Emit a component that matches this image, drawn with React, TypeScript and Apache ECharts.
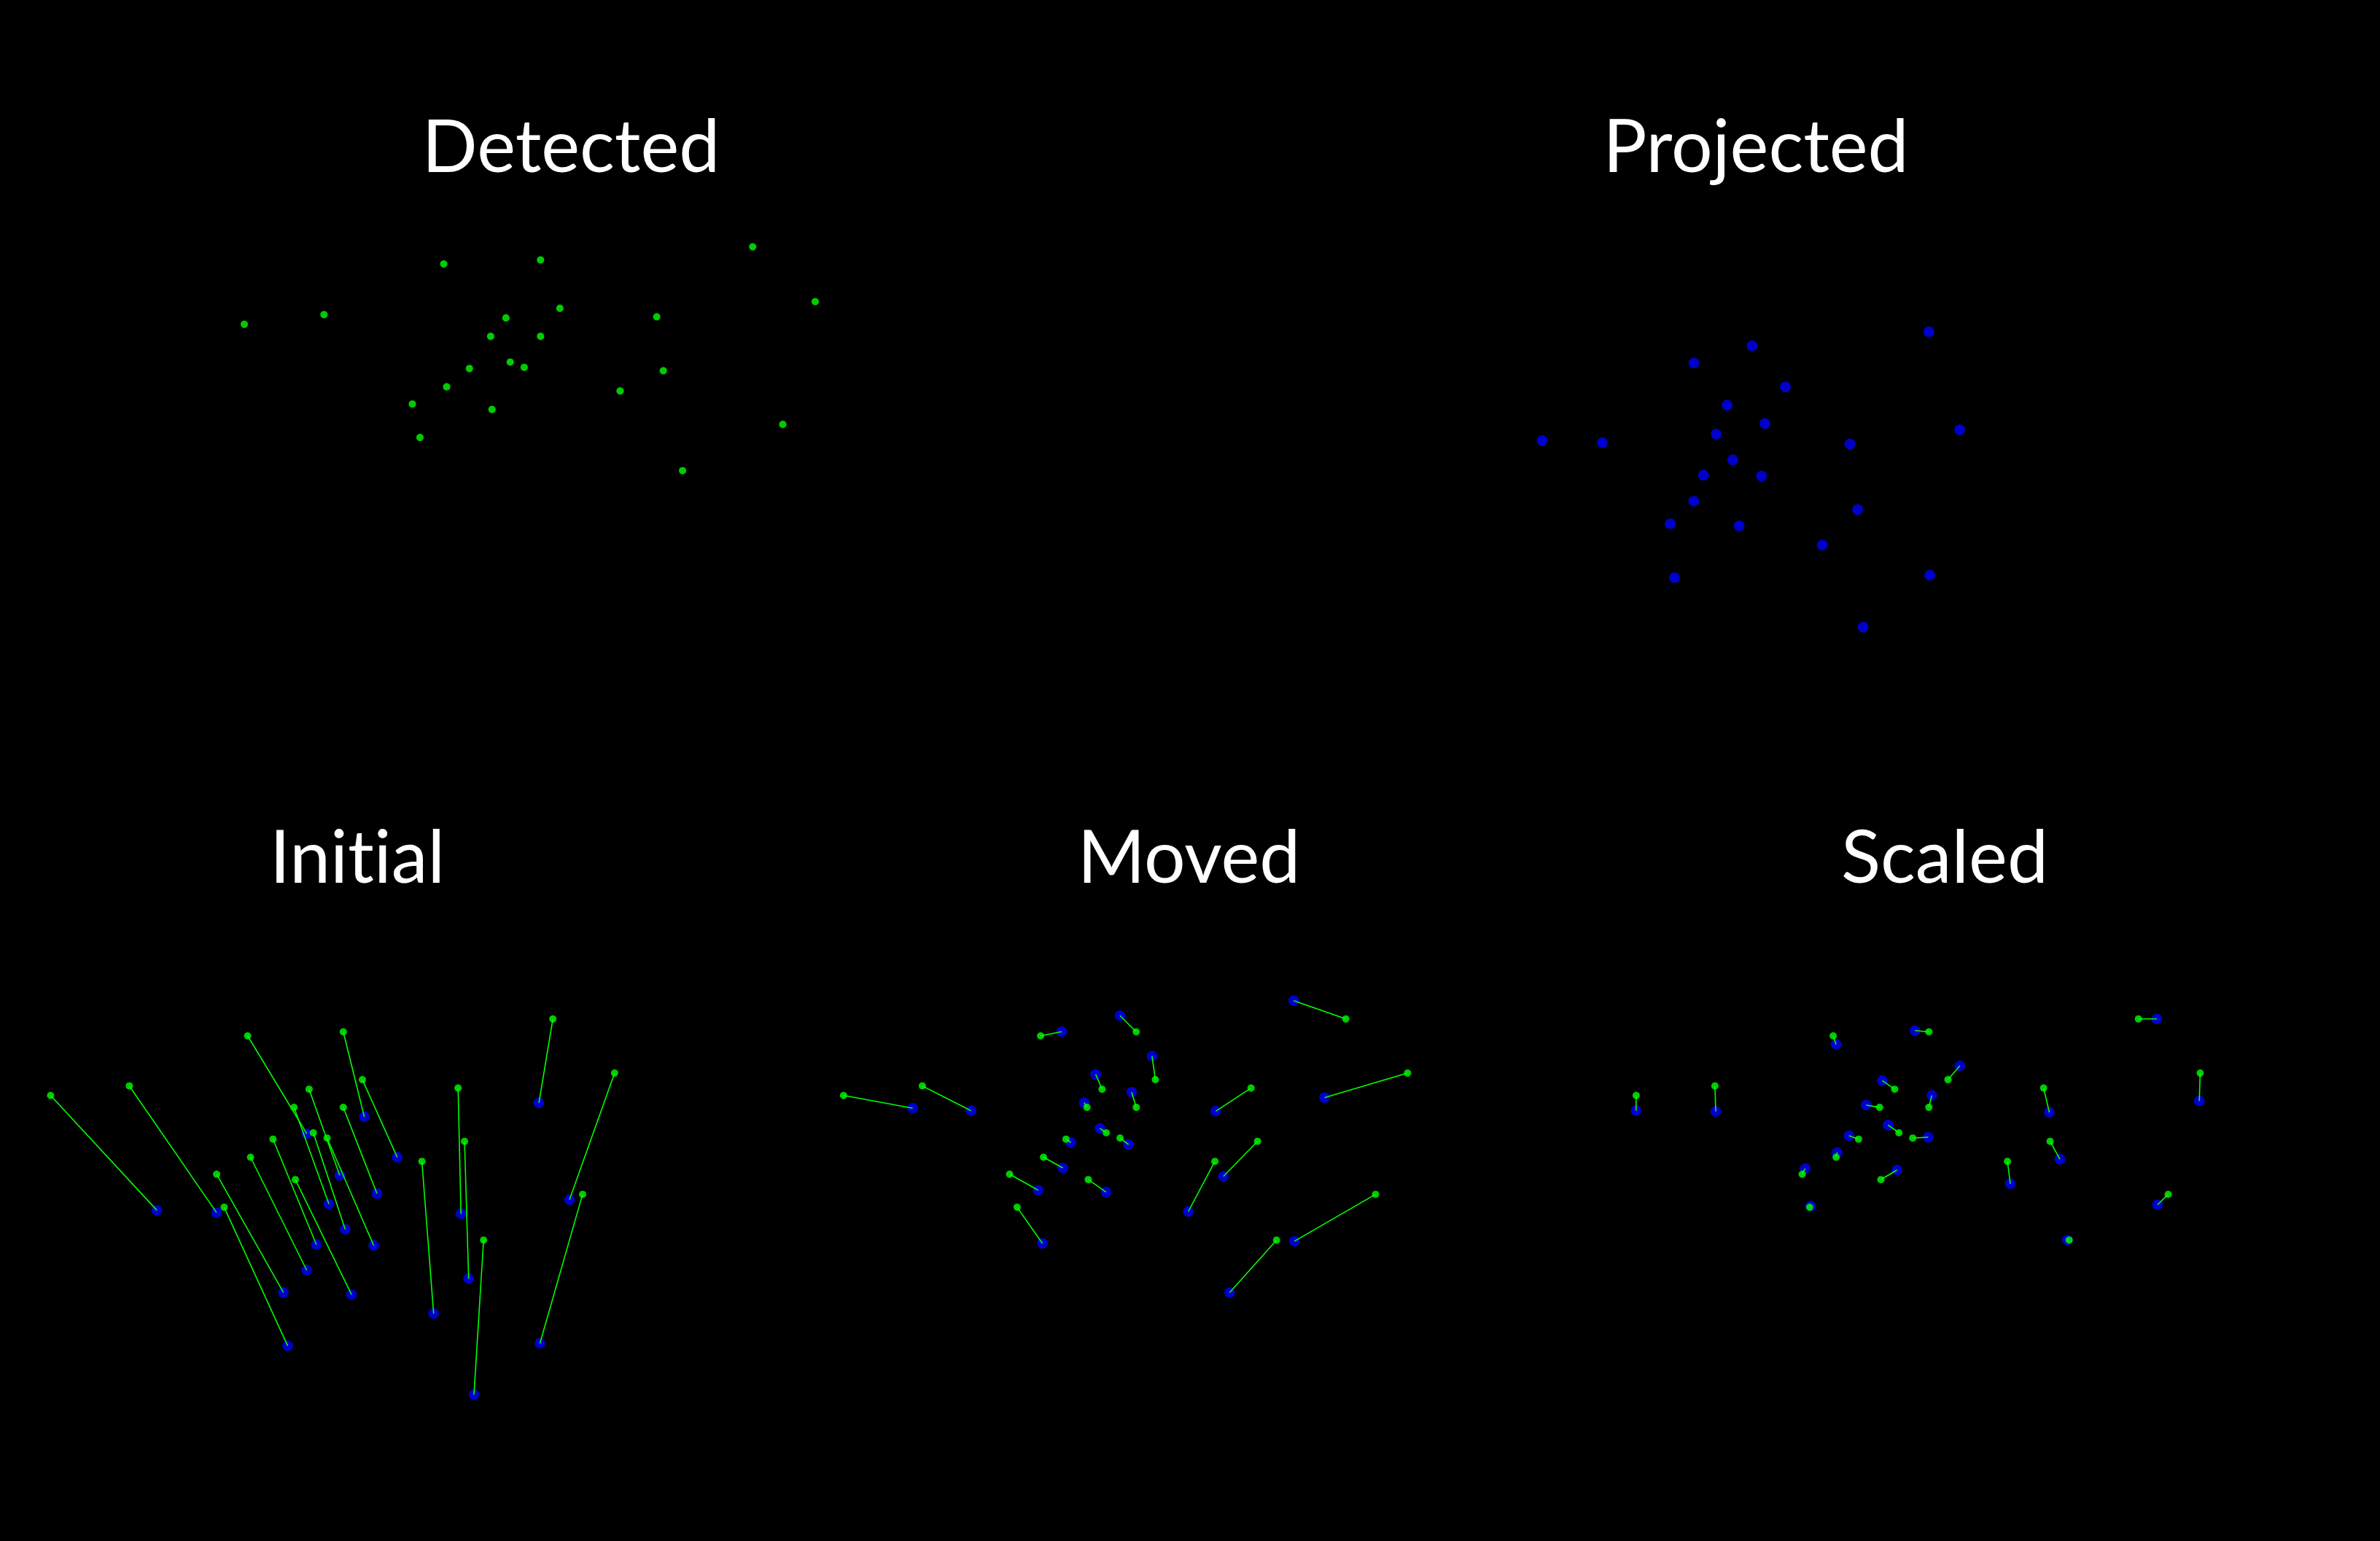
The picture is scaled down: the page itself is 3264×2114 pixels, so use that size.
import React, { useEffect, useRef } from "react";
import * as echarts from "echarts";

// Detected keypoints (image coordinates)
const detected: number[][] = [
  [69.4, 202.8], [177.4, 189.7], [339.6, 121.0], [470.8, 115.5], [758.2, 97.8],
  [842.9, 172.1], [497.0, 181.1], [423.9, 194.2], [628.2, 192.6], [403.2, 219.1],
  [470.8, 219.1], [429.7, 254.0], [448.6, 261.2], [374.4, 262.7], [637.1, 265.7],
  [343.6, 287.5], [578.6, 293.2], [297.1, 310.8], [405.0, 318.2], [799.0, 338.4],
  [307.4, 356.1], [663.2, 401.2],
];

// Projected model points, matched index-by-index to detected
const projected: number[][] = [
  [215.2, 360.4], [296.9, 363.4], [420.8, 255.3], [499.6, 232.0], [739.1, 213.0],
  [781.0, 345.8], [544.8, 287.6], [465.9, 312.5], [632.2, 365.1], [451.1, 351.7],
  [517.0, 337.4], [473.4, 386.5], [512.5, 408.6], [433.8, 407.3], [642.7, 454.0],
  [420.6, 442.5], [594.7, 502.0], [388.7, 473.1], [482.1, 475.9], [740.5, 542.8],
  [394.5, 546.2], [650.0, 613.3],
];

// Points after translation
const moved: number[][] = [
  [164.2, 220.3], [244.2, 223.7], [368.6, 115.3], [448.5, 93.3], [686.7, 72.7],
  [729.0, 205.7], [492.4, 148.7], [415.1, 173.7], [579.8, 224.3], [399.3, 212.7],
  [464.4, 198.3], [421.0, 248.0], [460.1, 270.0], [381.3, 267.3], [590.3, 313.7],
  [370.2, 302.3], [542.2, 362.0], [336.3, 332.7], [429.4, 335.3], [687.7, 402.7],
  [342.1, 405.7], [598.8, 473.3],
];

// Points after scaling
const scaled: number[][] = [
  [69.2, 223.7], [178.5, 224.7], [343.5, 132.7], [451.7, 113.7], [783.3, 97.7],
  [841.7, 210.3], [513.4, 162.0], [406.8, 182.3], [636.0, 226.0], [384.8, 216.0],
  [474.8, 202.7], [414.8, 243.3], [470.0, 260.0], [361.2, 258.0], [650.5, 290.3],
  [345.1, 281.0], [582.5, 324.0], [301.2, 303.0], [427.1, 305.0], [784.4, 352.7],
  [308.7, 354.3], [660.7, 401.0],
];

const titles = ["Detected", "Projected", "Initial", "Moved", "Scaled"];

const IMG_W = 1087;
const IMG_H = 700;
const TOP_SCALE = 1.0122;
const GREEN = "#00ff00";
const BLUE = "#0000ff";

type Panel = {
  title: string;
  left: number;
  top: number;
  scale: number;
  titleX: number;
  titleY: number;
  green: number[][] | null;
  blue: number[][] | null;
  link: boolean;
};

const panels: Panel[] = [
  { title: titles[0], left: 264.8, top: 239.6, scale: TOP_SCALE, titleX: 783, titleY: 197, green: detected, blue: null, link: false },
  { title: titles[1], left: 1897.1, top: 239.6, scale: TOP_SCALE, titleX: 2408, titleY: 197, green: null, blue: projected, link: false },
  { title: titles[2], left: 0, top: 1300, scale: 1, titleX: 490, titleY: 1172, green: detected, blue: projected, link: true },
  { title: titles[3], left: 1087.5, top: 1300, scale: 1, titleX: 1630.5, titleY: 1172, green: detected, blue: moved, link: true },
  { title: titles[4], left: 2174.5, top: 1300, scale: 1, titleX: 2667, titleY: 1172, green: detected, blue: scaled, link: true },
];

function buildOption() {
  const grid: any[] = [];
  const xAxis: any[] = [];
  const yAxis: any[] = [];
  const series: any[] = [];
  const graphic: any[] = [];

  panels.forEach((p, i) => {
    grid.push({
      left: p.left,
      top: p.top,
      width: IMG_W * p.scale,
      height: IMG_H * p.scale,
      show: false,
      containLabel: false,
    });
    xAxis.push({ type: "value", gridIndex: i, min: 0, max: IMG_W, show: false });
    yAxis.push({ type: "value", gridIndex: i, min: 0, max: IMG_H, inverse: true, show: false });

    if (p.blue) {
      series.push({
        type: "scatter",
        xAxisIndex: i,
        yAxisIndex: i,
        data: p.blue,
        symbol: "circle",
        symbolSize: 14.5 * p.scale,
        itemStyle: { color: BLUE },
        silent: true,
        clip: false,
        z: 2,
      });
    }
    if (p.link && p.green && p.blue) {
      const g = p.green;
      const b = p.blue;
      series.push({
        type: "lines",
        coordinateSystem: "cartesian2d",
        xAxisIndex: i,
        yAxisIndex: i,
        data: g.map((pt, k) => ({ coords: [pt, b[k]] })),
        lineStyle: { color: GREEN, width: 1.6, opacity: 1 },
        silent: true,
        z: 3,
      });
    }
    if (p.green) {
      series.push({
        type: "scatter",
        xAxisIndex: i,
        yAxisIndex: i,
        data: p.green,
        symbol: "circle",
        symbolSize: 10 * p.scale,
        itemStyle: { color: GREEN },
        silent: true,
        clip: false,
        z: 4,
      });
    }

    graphic.push({
      type: "text",
      x: p.titleX,
      y: p.titleY,
      silent: true,
      style: {
        text: p.title,
        fill: "#ffffff",
        font: "100px Lato",
        fontSize: 100,
        fontFamily: "Lato",
        textAlign: "center",
        textVerticalAlign: "middle",
        align: "center",
        verticalAlign: "middle",
      },
    });
  });

  return {
    animation: false,
    backgroundColor: "#000000",
    grid,
    xAxis,
    yAxis,
    series,
    graphic,
  };
}

export default function App() {
  const ref = useRef<HTMLDivElement>(null);

  useEffect(() => {
    document.body.style.margin = "0";
    document.body.style.background = "#000";
    if (!ref.current) return;
    const chart = echarts.init(ref.current, undefined, { renderer: "svg" });
    chart.setOption(buildOption());
    return () => {
      chart.dispose();
    };
  }, []);

  return (
    <>
      <style>{`#root svg text { font-variant-ligatures: none !important; font-feature-settings: "liga" 0, "clig" 0, "dlig" 0 !important; }`}</style>
      <div
        ref={ref}
        style={{ position: "fixed", left: 0, top: 0, width: 3264, height: 2114, background: "#000" }}
      />
    </>
  );
}
